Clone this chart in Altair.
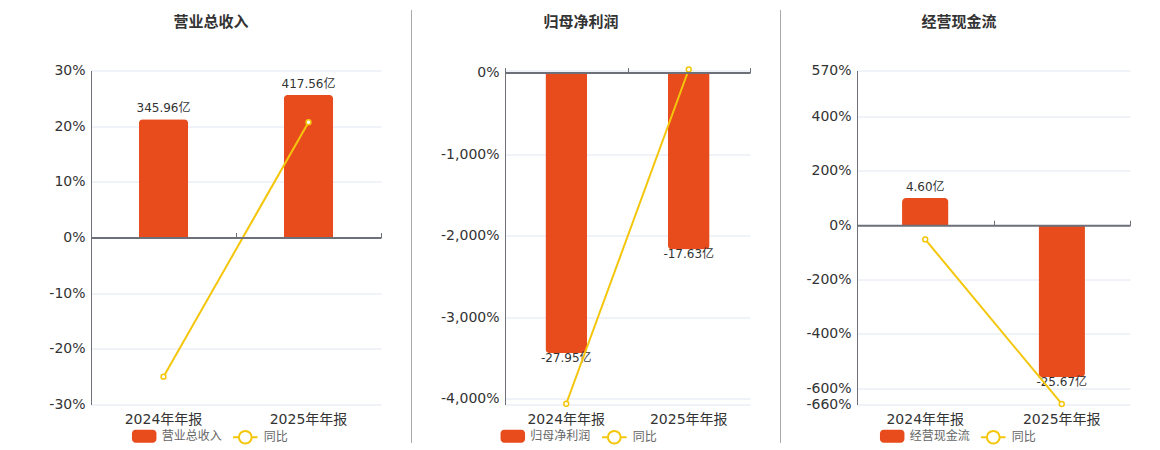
import altair as alt
import pandas as pd

# ---------------- data ----------------
categories = ["2024年年报", "2025年年报"]
panel_titles = ["营业总收入", "归母净利润", "经营现金流"]

revenue = [345.96, 417.56]
revenue_yoy = [-25.0, 20.7]
profit = [-27.95, -17.63]
profit_yoy = [-4060.0, 36.9]
cashflow = [4.60, -25.67]
cashflow_yoy = [-52.0, -658.0]

# percent axis (visible) and bar axis (hidden) settings
pct_domains = [[-30, 30], [-4069, 25], [-660, 570]]
pct_ticks = [[30, 20, 10, 0, -10, -20, -30],
             [25, 0, -1000, -2000, -3000, -4000, -4069],
             [570, 400, 200, 0, -200, -400, -600, -660]]
hidden_ticks = [[], [25, -4069], []]
bar_domains = [[-489, 489], [-33.08, 0.203], [-30.29, 26.16]]

# ---------------- style / layout ----------------
FONT = "DejaVu Sans, Noto Sans CJK SC, sans-serif"
TFONT = "Noto Sans CJK SC, DejaVu Sans, sans-serif"
BAR = "#E84B1C"
YEL = "#F4C60B"
H = 334
widths = [290, 245, 273]
sep_x = [-77, -93.5, -76.5]
sep_opacity = [0, 1, 1]
legend_x = [(40.7, 140.8), (-4.7, 95.8), (22.7, 122.8)]
LEGEND_Y = 353.25
title_dx = [-25, -46.5, -34.5]

RECT = ("M-0.7,-0.53H0.7A0.3,0.3,0,0,1,1,-0.23V0.23A0.3,0.3,0,0,1,0.7,0.53"
        "H-0.7A0.3,0.3,0,0,1,-1,0.23V-0.23A0.3,0.3,0,0,1,-0.7,-0.53Z")
LINESYM = "M-1,0L-0.52,0M0.52,0L1,0M-0.52,0A0.52,0.52,0,1,1,0.52,0A0.52,0.52,0,1,1,-0.52,0Z"


def panel(i, values, yoys):
    df = pd.DataFrame({"cat": categories, "value": values, "yoy": yoys})
    name = panel_titles[i]
    W = widths[i]
    lo, hi = pct_domains[i]
    zero_px = H * hi / (hi - lo)

    xs = alt.Scale(domain=categories, paddingInner=0, paddingOuter=0)
    x_none = alt.X("cat:N", sort=categories, scale=xs, axis=None)
    x_label_axis = alt.Axis(title=None, domain=False, ticks=False, grid=False, labelAngle=0,
                            labelFontSize=14, labelColor="#333333", labelPadding=8, labelFont=FONT)
    x_zero_axis = alt.Axis(title=None, labels=False, grid=False, domain=True, domainColor="#6E7079",
                           domainWidth=2, ticks=True, tickBand="extent", tickColor="#6E7079",
                           tickSize=5, tickWidth=1, offset=-zero_px, zindex=1)

    cond = " || ".join(f"datum.value == {v}" for v in hidden_ticks[i]) or "false"
    label_expr = f"({cond}) ? '' : replace(format(datum.value, ','), '\u2212', '-') + '%'"
    y_axis = alt.Axis(title=None, values=pct_ticks[i], labelExpr=label_expr, grid=True,
                      gridColor="#E0E6F1", gridWidth=1, domain=True, domainColor="#6E7079",
                      ticks=False, labelFontSize=14, labelColor="#333333", labelFont=FONT,
                      labelPadding=6, labelOverlap=False, labelFlush=False)
    ypct = alt.Scale(domain=pct_domains[i])
    ybar = alt.Scale(domain=bar_domains[i])

    base = alt.Chart(df).transform_calculate(
        series=f"'{name}'",
        label="replace(format(datum.value, '.2f'), '\u2212', '-') + '亿'",
    )

    fill = alt.Fill("series:N", title=None, scale=alt.Scale(domain=[name], range=[BAR]),
                    legend=alt.Legend(orient="none", legendX=legend_x[i][0], legendY=LEGEND_Y,
                                      symbolType=RECT, symbolSize=600, symbolStrokeWidth=0,
                                      labelFontSize=12, labelColor="#666666", labelFont=TFONT,
                                      labelOffset=5, padding=0))
    stroke = alt.Stroke("series2:N", title=None, scale=alt.Scale(domain=["同比"], range=[YEL]),
                        legend=alt.Legend(orient="none", legendX=legend_x[i][1], legendY=LEGEND_Y,
                                          symbolType=LINESYM, symbolSize=600, symbolStrokeWidth=2,
                                          symbolFillColor="white", labelFontSize=12,
                                          labelColor="#666666", labelFont=TFONT,
                                          labelOffset=5, padding=0))

    bw = alt.RelativeBandSize(0.34)
    bar_pos = base.transform_filter("datum.value >= 0").mark_bar(
        width=bw, cornerRadiusTopLeft=4, cornerRadiusTopRight=4
    ).encode(x=x_none, y=alt.Y("value:Q", scale=ybar, axis=None), fill=fill)
    bar_neg = base.transform_filter("datum.value < 0").mark_bar(
        width=bw, cornerRadiusBottomLeft=4, cornerRadiusBottomRight=4
    ).encode(x=x_none, y=alt.Y("value:Q", scale=ybar, axis=None), fill=fill)

    text_pos = base.transform_filter("datum.value >= 0").mark_text(
        fontSize=12, color="#333333", font=FONT, baseline="middle", dy=-11
    ).encode(x=x_none, y=alt.Y("value:Q", scale=ybar, axis=None), text="label:N")
    text_neg = base.transform_filter("datum.value < 0").mark_text(
        fontSize=12, color="#333333", font=FONT, baseline="middle", dy=5
    ).encode(x=x_none, y=alt.Y("value:Q", scale=ybar, axis=None), text="label:N")

    line = base.transform_calculate(series2="'同比'").mark_line(strokeWidth=2).encode(
        x=alt.X("cat:N", sort=categories, scale=xs, axis=x_label_axis),
        y=alt.Y("yoy:Q", scale=ypct, axis=y_axis),
        stroke=stroke,
    )
    points = base.mark_point(filled=True, fill="white", stroke=YEL, strokeWidth=1.5,
                             size=24, opacity=1).encode(
        x=alt.X("cat:N", sort=categories, scale=xs, axis=x_zero_axis),
        y=alt.Y("yoy:Q", scale=ypct, axis=None),
    )

    sep = alt.Chart(pd.DataFrame({"k": [0]})).mark_rule(
        color="#AAAAAA", strokeWidth=1, opacity=sep_opacity[i]
    ).encode(x=alt.value(sep_x[i]), y=alt.value(-60.5), y2=alt.value(372.5))

    return alt.layer(bar_pos, bar_neg, text_pos, text_neg, line, points, sep).resolve_scale(
        y="independent"
    ).resolve_axis(x="independent").properties(
        width=W, height=H,
        title=alt.TitleParams(text=name, fontSize=15, fontWeight="bold", color="#333333",
                              font=TFONT, anchor="middle", frame="group", dx=title_dx[i],
                              offset=-20),
    )


p1 = panel(0, revenue, revenue_yoy)
p2 = panel(1, profit, profit_yoy)
p3 = panel(2, cashflow, cashflow_yoy)

chart = alt.hconcat(p1, p2, p3, spacing=28).resolve_scale(
    fill="independent", stroke="independent"
).resolve_legend(fill="independent", stroke="independent").configure_view(
    stroke="transparent"
).properties(padding={"left": 5, "top": 0.5, "right": 5, "bottom": 0})

chart.save("out.html", embed_options={"renderer": "svg", "actions": False})
